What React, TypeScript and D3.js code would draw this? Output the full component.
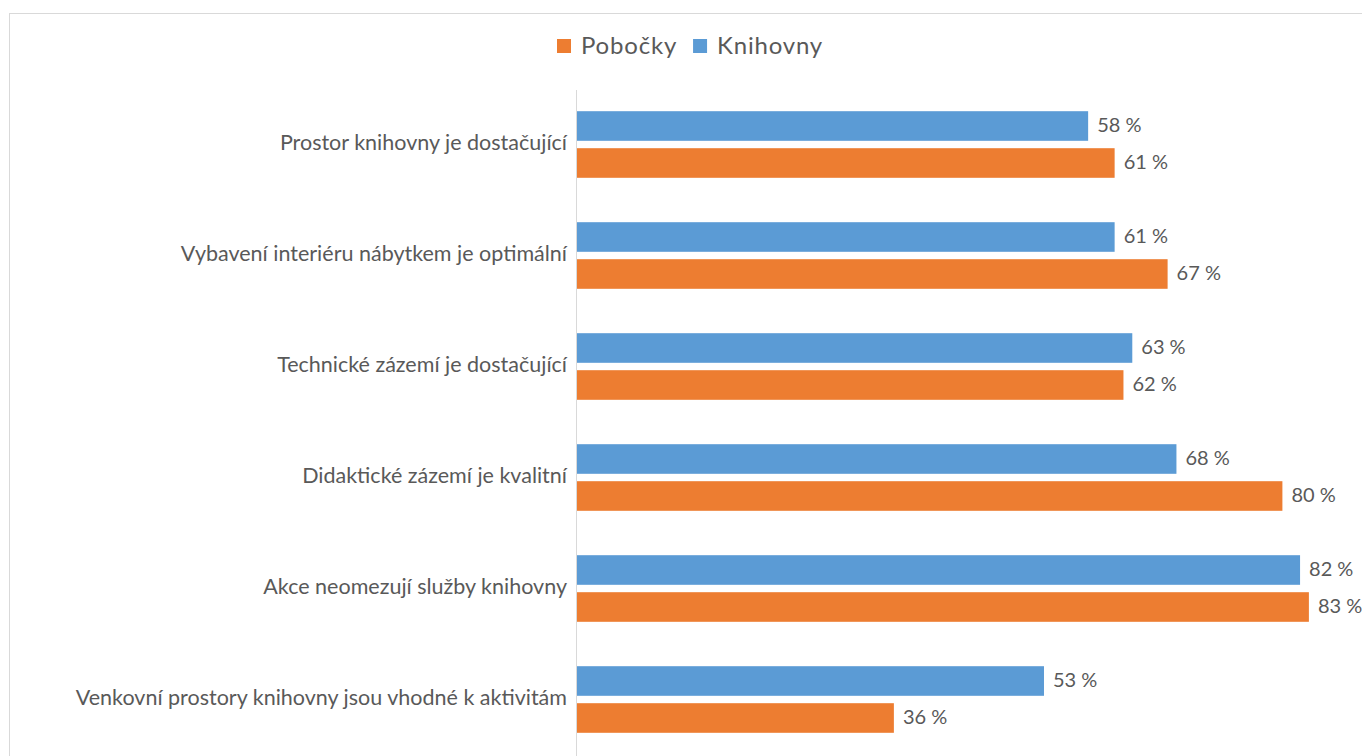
import { useEffect, useRef } from 'react';
import * as d3 from 'd3';

const categories = [
    'Prostor knihovny je dostačující',
    'Vybavení interiéru nábytkem je optimální',
    'Technické zázemí je dostačující',
    'Didaktické zázemí  je kvalitní',
    'Akce neomezují služby knihovny',
    'Venkovní prostory knihovny jsou vhodné k aktivitám',
];
const knihovny = [58, 61, 63, 68, 82, 53];
const pobocky = [61, 67, 62, 80, 83, 36];
const seriesNames = ['Knihovny', 'Pobočky'];
const legendOrder = ['Pobočky', 'Knihovny'];

const colors: Record<string, string> = { Knihovny: '#5b9bd5', Pobočky: '#ed7d31' };

const App = () => {
    const svgRef = useRef<SVGSVGElement>(null);

    useEffect(() => {
        if (!svgRef.current) return;
        const width = 1362;
        const height = 756;
        const svg = d3.select(svgRef.current);
        svg.selectAll('*').remove();
        svg.attr('width', width).attr('height', height);

        const font = 'Lato, "Noto Sans", sans-serif';
        const textColor = '#595959';

        // rámeček grafu
        svg.append('rect')
            .attr('x', 9.5).attr('y', 13.5)
            .attr('width', 1400).attr('height', 800)
            .attr('fill', '#fff')
            .attr('stroke', '#d9d9d9');

        const axisX = 576;
        const x = d3.scaleLinear().domain([0, 100]).range([axisX, axisX + 883]);
        const y = d3.scaleBand<string>()
            .domain(categories)
            .range([89, 755])
            .paddingInner(0.4)
            .paddingOuter(0.2);
        const ySub = d3.scaleBand<string>()
            .domain(seriesNames)
            .range([0, y.bandwidth()])
            .paddingInner(0.2);

        const rows = categories.map((c, i) => ({
            cat: c,
            values: [
                { name: 'Knihovny', value: knihovny[i] },
                { name: 'Pobočky', value: pobocky[i] },
            ],
        }));

        const groups = svg.append('g').selectAll('g')
            .data(rows)
            .enter()
            .append('g')
            .attr('transform', d => `translate(0,${y(d.cat)})`);

        groups.selectAll('rect')
            .data(d => d.values)
            .enter()
            .append('rect')
            .attr('x', x(0))
            .attr('y', d => ySub(d.name) || 0)
            .attr('width', d => x(d.value) - x(0))
            .attr('height', ySub.bandwidth())
            .attr('fill', d => colors[d.name]);

        groups.selectAll('text.val')
            .data(d => d.values)
            .enter()
            .append('text')
            .attr('class', 'val')
            .attr('x', d => x(d.value) + 9)
            .attr('y', d => (ySub(d.name) || 0) + ySub.bandwidth() / 2)
            .attr('dy', '0.3em')
            .attr('font-family', font)
            .attr('font-size', 20)
            .attr('fill', textColor)
            .text(d => `${d.value} %`);

        // osa y
        const yAxis = svg.append('g')
            .attr('transform', `translate(${axisX},0)`)
            .call(d3.axisLeft(y).tickSize(0).tickPadding(9));
        yAxis.select('.domain').attr('stroke', '#d9d9d9').attr('d', 'M0.5,90V756');
        yAxis.selectAll('text')
            .attr('font-family', font)
            .attr('font-size', 21.5)
            .attr('dy', '0.25em')
            .attr('fill', textColor);

        // legenda
        const legend = svg.append('g');
        let lx = 557;
        legendOrder.forEach(name => {
            legend.append('rect')
                .attr('x', lx).attr('y', 39)
                .attr('width', 14).attr('height', 14)
                .attr('fill', colors[name]);
            const t = legend.append('text')
                .attr('x', lx + 24).attr('y', 46)
                .attr('dy', '0.35em')
                .attr('font-family', font)
                .attr('font-size', 24)
                .attr('letter-spacing', 0.8)
                .attr('fill', textColor)
                .text(name);
            const w = (t.node() as SVGTextElement).getComputedTextLength();
            lx += 24 + w + 16;
        });
    }, []);

    return (
        <svg ref={svgRef} style={{ position: 'absolute', left: 0, top: 0, display: 'block' }}></svg>
    );
};

export default App;
